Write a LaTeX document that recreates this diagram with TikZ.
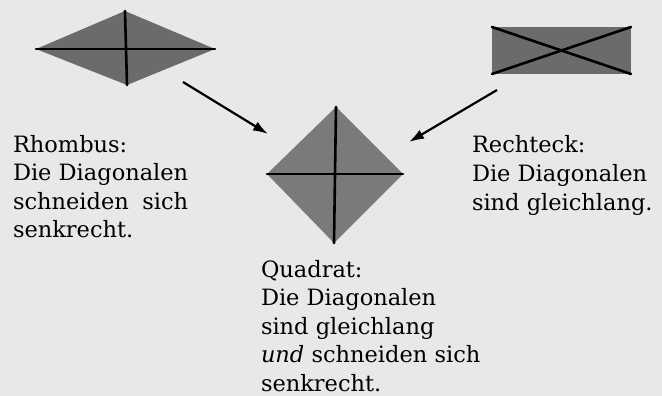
\documentclass[tikz,border=0pt]{standalone}
\usepackage{fontspec}
\usepackage{calc}
\setmainfont{DejaVu Serif}
\usetikzlibrary{arrows.meta}
\tikzset{
  shapefill/.style={fill=black!58, draw=none},
  diag/.style={line width=2.6pt, black, line cap=round},
  pointer/.style={line width=2.2pt, black, -{Latex[length=15pt,width=10pt]}},
  caption/.style={anchor=base west, inner sep=0pt, outer sep=0pt, font=\fontsize{22.5}{28.6}\selectfont}
}
\begin{document}
\begin{tikzpicture}[x=1pt,y=-1pt]
\fill[black!9] (0,0) rectangle (662,396);
\useasboundingbox (0,0) rectangle (662,396);
% Rhombus
\coordinate (rL) at (36,49);
\coordinate (rR) at (215,49);
\coordinate (rT) at (125,11);
\coordinate (rB) at (127,85);
\fill[shapefill] (rL) -- (rT) -- (rR) -- (rB) -- cycle;
\draw[diag] (rL) -- (rR);
\draw[diag] (rT) -- (rB);
% Rectangle
\coordinate (eNW) at (492,27);
\coordinate (eNE) at (631,27);
\coordinate (eSE) at (631,74);
\coordinate (eSW) at (492,74);
\fill[shapefill] (eNW) rectangle (eSE);
\draw[diag] (eNW) -- (eSE);
\draw[diag] (eSW) -- (eNE);
% Square
\coordinate (qT) at (336,107);
\coordinate (qB) at (334,243);
\coordinate (qL) at (267,174);
\coordinate (qR) at (403,174);
\fill[shapefill,fill=black!52] (qL) -- (qT) -- (qR) -- (qB) -- cycle;
\draw[diag] (qL) -- (qR);
\draw[diag] (qT) -- (qB);
% Arrows
\coordinate (a1s) at (183,82);
\coordinate (a1e) at (268,134);
\coordinate (a2s) at (497,90);
\coordinate (a2e) at (409,142);
\draw[pointer] (a1s) -- (a1e);
\draw[pointer] (a2s) -- (a2e);
% Texts
\node[caption] (trh) at (13,152) {\begin{tabular}[t]{@{}l@{}}Rhombus:\\Die Diagonalen\\\makebox[\widthof{Die Diagonalen}][s]{schneiden sich}\\senkrecht.\end{tabular}};
\node[caption] (tre) at (472,153) {\begin{tabular}[t]{@{}l@{}}Rechteck:\\Die Diagonalen\\sind gleichlang.\end{tabular}};
\node[caption] (tqu) at (261,277) {\begin{tabular}[t]{@{}l@{}}Quadrat:\\Die Diagonalen\\sind gleichlang\\\textit{und} schneiden sich\\senkrecht.\end{tabular}};
\end{tikzpicture}
\end{document}
